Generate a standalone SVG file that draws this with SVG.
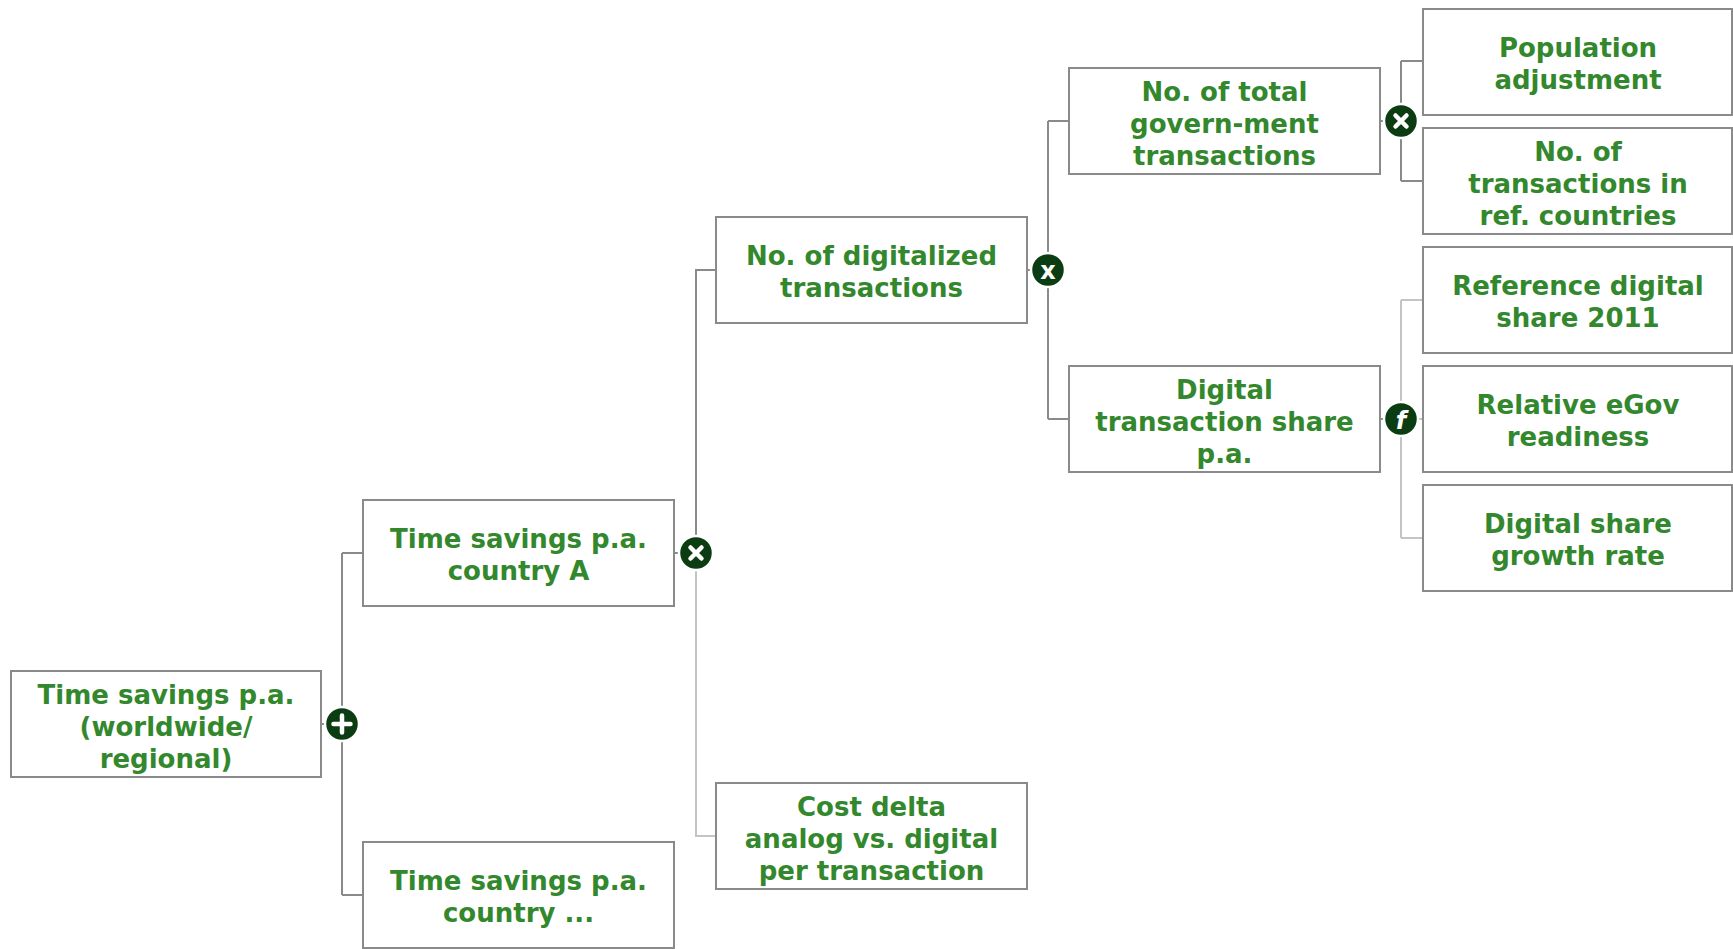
<svg xmlns="http://www.w3.org/2000/svg" width="1733" height="949" viewBox="0 0 1733 949">
  <style>
    .box { fill: #ffffff; stroke: #8a8a8a; stroke-width: 2; }
    .lbl { font-family: "DejaVu Sans", Verdana, sans-serif; font-weight: bold; font-size: 26px; fill: #33882d; text-anchor: middle; }
    .dark { stroke: #8a8a8a; stroke-width: 2; fill: none; }
    .light { stroke: #c4c4c4; stroke-width: 2; fill: none; }
    .op { fill: #0c3c12; stroke: #ffffff; stroke-width: 2.5; }
    .sym { stroke: #ffffff; stroke-width: 4.5; stroke-linecap: round; fill: none; }
    .opt { font-family: "DejaVu Sans", Verdana, sans-serif; font-weight: bold; font-size: 24px; fill: #ffffff; text-anchor: middle; }
  </style>
  <rect width="1733" height="949" fill="#ffffff"/>

  <!-- connectors -->
  <g id="connectors">
    <path class="dark" d="M321 724 H342"/>
    <path class="dark" d="M342 553 V895 M342 553 H363 M342 895 H363"/>
    <path class="dark" d="M674 553 H696"/>
    <path class="dark" d="M696 553 V270 H716"/>
    <path class="light" d="M696 553 V836 H716"/>
    <path class="dark" d="M1027 270 H1048"/>
    <path class="dark" d="M1048 121 V419 M1048 121 H1069 M1048 419 H1069"/>
    <path class="dark" d="M1380 121 H1401"/>
    <path class="dark" d="M1401 61 V181 M1401 61 H1423 M1401 181 H1423"/>
    <path class="dark" d="M1380 419 H1401"/>
    <path class="light" d="M1401 300 V538 M1401 300 H1423 M1401 419 H1423 M1401 538 H1423"/>
  </g>

  <!-- operator badges -->
  <g id="op-sum">
    <circle class="op" cx="342" cy="724" r="17"/>
    <path class="sym" d="M342 715.5 V732.5 M333.5 724 H350.5"/>
  </g>
  <g id="op-mult-a">
    <circle class="op" cx="696" cy="553" r="17"/>
    <path class="sym" d="M690.5 547.5 L701.5 558.5 M701.5 547.5 L690.5 558.5"/>
  </g>
  <g id="op-mult-b">
    <circle class="op" cx="1048" cy="270" r="17"/>
    <text class="opt" x="1048" y="278.5">x</text>
  </g>
  <g id="op-mult-c">
    <circle class="op" cx="1401" cy="121" r="17"/>
    <path class="sym" d="M1395.5 115.5 L1406.5 126.5 M1406.5 115.5 L1395.5 126.5"/>
  </g>
  <g id="op-func">
    <circle class="op" cx="1401" cy="419" r="17"/>
    <text class="opt" x="1401" y="429" font-style="italic" font-size="29">f</text>
  </g>

  <!-- nodes -->
  <g id="node-total">
    <rect class="box" x="11" y="671" width="310" height="106"/>
    <text class="lbl" x="166" y="704">Time savings p.a.</text>
    <text class="lbl" x="166" y="736">(worldwide/</text>
    <text class="lbl" x="166" y="768">regional)</text>
  </g>
  <g id="node-country-a">
    <rect class="box" x="363" y="500" width="311" height="106"/>
    <text class="lbl" x="518.5" y="548">Time savings p.a.</text>
    <text class="lbl" x="518.5" y="580">country A</text>
  </g>
  <g id="node-country-more">
    <rect class="box" x="363" y="842" width="311" height="106"/>
    <text class="lbl" x="518.5" y="890">Time savings p.a.</text>
    <text class="lbl" x="518.5" y="922">country ...</text>
  </g>
  <g id="node-digitalized">
    <rect class="box" x="716" y="217" width="311" height="106"/>
    <text class="lbl" x="871.5" y="265">No. of digitalized</text>
    <text class="lbl" x="871.5" y="297">transactions</text>
  </g>
  <g id="node-cost-delta">
    <rect class="box" x="716" y="783" width="311" height="106"/>
    <text class="lbl" x="871.5" y="816">Cost delta</text>
    <text class="lbl" x="871.5" y="848">analog vs. digital</text>
    <text class="lbl" x="871.5" y="880">per transaction</text>
  </g>
  <g id="node-total-gov">
    <rect class="box" x="1069" y="68" width="311" height="106"/>
    <text class="lbl" x="1224.5" y="101">No. of total</text>
    <text class="lbl" x="1224.5" y="133">govern-ment</text>
    <text class="lbl" x="1224.5" y="165">transactions</text>
  </g>
  <g id="node-digital-share">
    <rect class="box" x="1069" y="366" width="311" height="106"/>
    <text class="lbl" x="1224.5" y="399">Digital</text>
    <text class="lbl" x="1224.5" y="431">transaction share</text>
    <text class="lbl" x="1224.5" y="463">p.a.</text>
  </g>
  <g id="node-population">
    <rect class="box" x="1423" y="9" width="309" height="106"/>
    <text class="lbl" x="1578" y="57">Population</text>
    <text class="lbl" x="1578" y="89">adjustment</text>
  </g>
  <g id="node-ref-transactions">
    <rect class="box" x="1423" y="128" width="309" height="106"/>
    <text class="lbl" x="1578" y="161">No. of</text>
    <text class="lbl" x="1578" y="193">transactions in</text>
    <text class="lbl" x="1578" y="225">ref. countries</text>
  </g>
  <g id="node-ref-share">
    <rect class="box" x="1423" y="247" width="309" height="106"/>
    <text class="lbl" x="1578" y="295">Reference digital</text>
    <text class="lbl" x="1578" y="327">share 2011</text>
  </g>
  <g id="node-egov">
    <rect class="box" x="1423" y="366" width="309" height="106"/>
    <text class="lbl" x="1578" y="414">Relative eGov</text>
    <text class="lbl" x="1578" y="446">readiness</text>
  </g>
  <g id="node-growth">
    <rect class="box" x="1423" y="485" width="309" height="106"/>
    <text class="lbl" x="1578" y="533">Digital share</text>
    <text class="lbl" x="1578" y="565">growth rate</text>
  </g>
</svg>
